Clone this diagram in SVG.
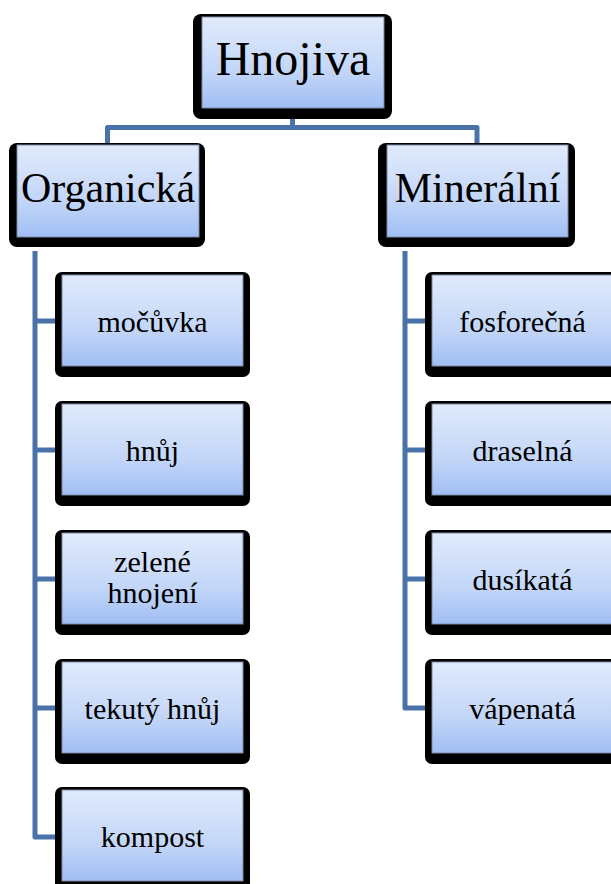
<svg xmlns="http://www.w3.org/2000/svg" width="611" height="884" viewBox="0 0 611 884">
<defs>
<linearGradient id="g" x1="0" y1="0" x2="0" y2="1">
<stop offset="0" stop-color="#e0eafc"/>
<stop offset="0.6" stop-color="#c3d6f8"/>
<stop offset="1" stop-color="#a0bef4"/>
</linearGradient>
</defs>
<style>
.sh{fill:#000}
.bx{fill:url(#g);stroke:#7d8aa0;stroke-width:1}
.t{font-family:"Liberation Serif","Times New Roman",serif;fill:#000;text-anchor:middle}
.big{font-size:48px}
.mid{font-size:42px}
.sm{font-size:30px}
.c{fill:none;stroke:#4872a8;stroke-width:5;stroke-linejoin:round;stroke-linecap:butt}
</style>
<rect width="611" height="884" fill="#fff"/>
<g id="connectors">
<path class="c" d="M292.5,118 V127.5 M107.5,143 V127.5 H477 V143"/>
<path class="c" d="M35,251 V837 H56 M35,321 H56 M35,450 H56 M35,579 H56 M35,708 H56"/>
<path class="c" d="M405,251 V708 H426 M405,321 H426 M405,450 H426 M405,579 H426"/>
</g>
<g id="hnojiva">
<rect class="sh" x="193" y="14" width="199" height="105" rx="8"/>
<rect class="bx" x="202" y="17" width="182" height="91"/>
<text class="t big" x="293" y="75">Hnojiva</text>
</g>
<g id="organicka">
<rect class="sh" x="9" y="143" width="196" height="104" rx="8"/>
<rect class="bx" x="17" y="145" width="182" height="92"/>
<text class="t mid" x="108" y="202">Organická</text>
</g>
<g id="mineralni">
<rect class="sh" x="378" y="143" width="197" height="104" rx="8"/>
<rect class="bx" x="387" y="145" width="181" height="92"/>
<text class="t mid" x="477.5" y="202">Minerální</text>
</g>
<g id="mocuvka">
<rect class="sh" x="55" y="272" width="195" height="105" rx="7"/>
<rect class="bx" x="62" y="275" width="181" height="91"/>
<text class="t sm" x="152.5" y="332">močůvka</text>
</g>
<g id="hnuj">
<rect class="sh" x="55" y="401" width="195" height="105" rx="7"/>
<rect class="bx" x="62" y="404" width="181" height="91"/>
<text class="t sm" x="152.5" y="461">hnůj</text>
</g>
<g id="zelene-hnojeni">
<rect class="sh" x="55" y="530" width="195" height="105" rx="7"/>
<rect class="bx" x="62" y="533" width="181" height="91"/>
<text class="t sm" x="152.5" y="572">zelené</text>
<text class="t sm" x="152.5" y="603">hnojení</text>
</g>
<g id="tekuty-hnuj">
<rect class="sh" x="55" y="659" width="195" height="105" rx="7"/>
<rect class="bx" x="62" y="662" width="181" height="91"/>
<text class="t sm" x="152.5" y="719">tekutý hnůj</text>
</g>
<g id="kompost">
<rect class="sh" x="55" y="787" width="195" height="105" rx="7"/>
<rect class="bx" x="62" y="790" width="181" height="91"/>
<text class="t sm" x="152.5" y="847">kompost</text>
</g>
<g id="fosforecna">
<rect class="sh" x="425" y="272" width="195" height="105" rx="7"/>
<rect class="bx" x="432" y="275" width="181" height="91"/>
<text class="t sm" x="522.5" y="332">fosforečná</text>
</g>
<g id="draselna">
<rect class="sh" x="425" y="401" width="195" height="105" rx="7"/>
<rect class="bx" x="432" y="404" width="181" height="91"/>
<text class="t sm" x="522.5" y="461">draselná</text>
</g>
<g id="dusikata">
<rect class="sh" x="425" y="530" width="195" height="105" rx="7"/>
<rect class="bx" x="432" y="533" width="181" height="91"/>
<text class="t sm" x="522.5" y="590">dusíkatá</text>
</g>
<g id="vapenata">
<rect class="sh" x="425" y="659" width="195" height="105" rx="7"/>
<rect class="bx" x="432" y="662" width="181" height="91"/>
<text class="t sm" x="522.5" y="719">vápenatá</text>
</g>
</svg>
